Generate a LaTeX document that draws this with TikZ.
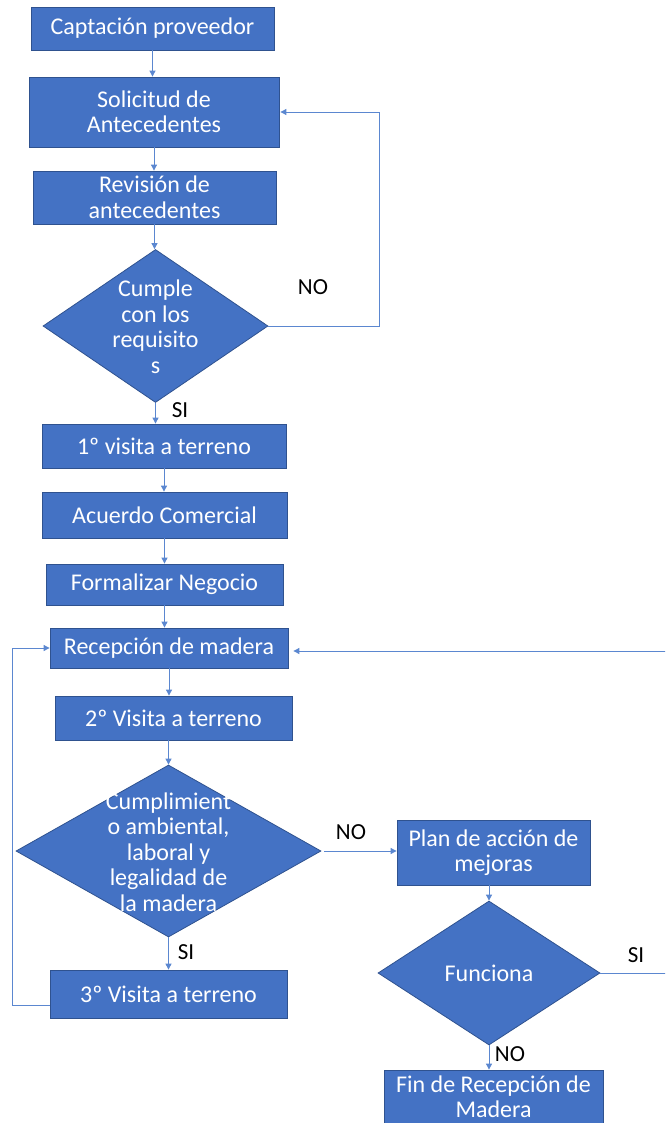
\documentclass[tikz,border=0pt]{standalone}
\usepackage{fontspec}
\setmainfont{Carlito}
\usetikzlibrary{arrows.meta,shapes.geometric}
\definecolor{obox}{HTML}{4472C4}
\definecolor{oedge}{HTML}{2F528F}
\definecolor{oline}{HTML}{5B87D0}
\tikzset{
  pbox/.style={rectangle,fill=obox,draw=oedge,line width=0.8pt,text=white,align=center,inner sep=0pt,font=\fontsize{24}{25.5}\selectfont},
  dbox/.style={diamond,fill=obox,draw=oedge,line width=0.8pt,inner sep=0pt},
  dtext/.style={text=white,align=center,inner sep=0pt,font=\fontsize{24}{25.5}\selectfont},
  lbl/.style={text=black,inner sep=0pt,font=\fontsize{23}{25}\selectfont},
  conn/.style={draw=oline,line width=0.9pt,-{Triangle[width=6pt,length=6pt]}},
  plain/.style={draw=oline,line width=0.9pt}
}
\begin{document}
\begin{tikzpicture}[x=1pt,y=-1pt]
\useasboundingbox (0,0) rectangle (665,1123);
\clip (0,0) rectangle (665,1123);
% boxes
\node[pbox,minimum width=243pt,minimum height=43pt] (b1) at (152.5,28.5) {Captación proveedor};
\node[pbox,minimum width=250pt,minimum height=70pt] (b2) at (154,112) {Solicitud de\\Antecedentes};
\node[pbox,minimum width=243pt,minimum height=53pt] (b3) at (154.5,197.5) {Revisión de\\antecedentes};
\node[dbox,minimum width=225pt,minimum height=153pt] (d1) at (155.5,326) {};
\node[dtext] (d1t) at (155.5,327) {Cumple\\con los\\requisito\\s};
\node[pbox,minimum width=244pt,minimum height=44pt] (b4) at (164,446) {1º visita a terreno};
\node[pbox,minimum width=245pt,minimum height=46pt] (b5) at (164.5,515) {Acuerdo Comercial};
\node[pbox,minimum width=237pt,minimum height=41pt] (b6) at (164.5,584.5) {Formalizar Negocio};
\node[pbox,minimum width=238pt,minimum height=40pt] (b7) at (169,648) {Recepción de madera};
\node[pbox,minimum width=237pt,minimum height=44pt] (b8) at (173.5,718) {2º Visita a terreno};
\node[dbox,minimum width=305pt,minimum height=172pt] (d2) at (168.5,851) {};
\node[dtext] (d2t) at (168.5,852) {Cumplimient\\o ambiental,\\laboral y\\legalidad de\\la madera};
\node[pbox,minimum width=237pt,minimum height=48pt] (b9) at (168.5,994) {3º Visita a terreno};
\node[pbox,minimum width=193pt,minimum height=65pt] (b10) at (493.5,852.5) {Plan de acción de\\mejoras};
\node[dbox,minimum width=222pt,minimum height=144pt] (d3) at (489,973) {};
\node[dtext] (d3t) at (489,973) {Funciona};
\node[pbox,minimum width=219pt,minimum height=53pt] (b11) at (493.5,1096.5) {Fin de Recepción de\\Madera};
% labels
\node[lbl] (lno1) at (313,287) {NO};
\node[lbl] (lsi1) at (180,410) {SI};
\node[lbl] (lno2) at (351,832) {NO};
\node[lbl] (lsi2) at (186,952) {SI};
\node[lbl] (lsi3) at (636,955) {SI};
\node[lbl] (lno3) at (510,1054) {NO};
% coordinates
\coordinate (n1) at (379,326);
\coordinate (l1) at (12,1005);
\coordinate (l2) at (12,648);
\coordinate (r1) at (672,973);
\coordinate (r2) at (672,651);
% connectors
\draw[conn] (b1.south) -- (b1.south |- b2.north);
\draw[conn] (b2.south) -- (b2.south |- b3.north);
\draw[conn] (b3.south) -- (b3.south |- d1.north);
\draw[conn] (d1.south) -- (d1.south |- b4.north);
\draw[conn] (b4.south) -- (b4.south |- b5.north);
\draw[conn] (b5.south) -- (b5.south |- b6.north);
\draw[conn] (b6.south) -- (b6.south |- b7.north);
\draw[conn] (b7.south) -- (b7.south |- b8.north);
\draw[conn] (b8.south -| d2.north) -- (d2.north);
\draw[conn] (d2.south) -- (d2.south |- b9.north);
\draw[conn] (d1.east) -- (n1) |- ([xshift=1pt]b2.east);
\draw[conn] (b9.west |- l1) -- (l1) -- (l2) -- (b7.west);
\draw[conn] ([xshift=3pt]d2.east) -- (b10.west |- d2.east);
\draw[conn] (b10.south -| d3.north) -- (d3.north);
\draw[conn] (d3.south) -- (d3.south |- b11.north);
\draw[conn] (d3.east) -- (r1) -- (r2) -- ([xshift=5pt]b7.east |- r2);
\end{tikzpicture}
\end{document}
